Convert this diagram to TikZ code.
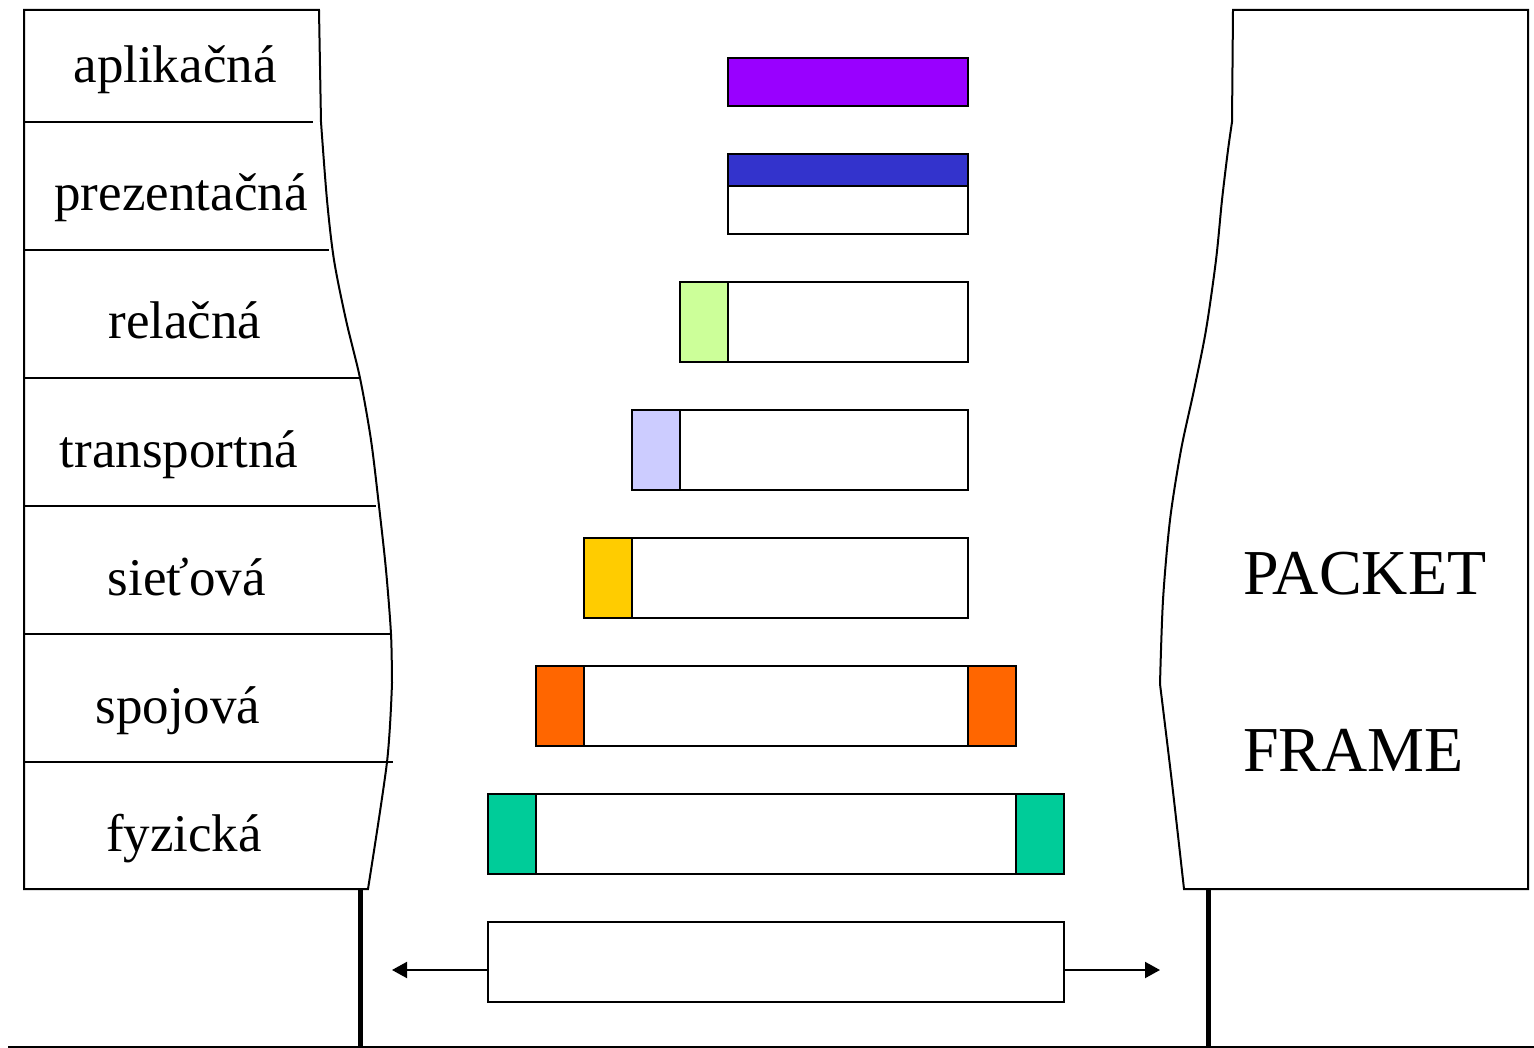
\documentclass[tikz,border=0pt]{standalone}
\usepackage{fontspec}
\setmainfont{Liberation Serif}
\usetikzlibrary{arrows.meta}
\definecolor{cPurple}{HTML}{9900FF}
\definecolor{cBlue}{HTML}{3333CC}
\definecolor{cGreen}{HTML}{CCFF99}
\definecolor{cLav}{HTML}{CCCCFF}
\definecolor{cGold}{HTML}{FFCC00}
\definecolor{cOrange}{HTML}{FF6600}
\definecolor{cTeal}{HTML}{00CC99}
\begin{document}
\begin{tikzpicture}[x=1pt,y=-1pt,line join=miter,
  outline/.style={draw=black,line width=2pt},
  layer/.style={font=\fontsize{53}{60}\selectfont,anchor=base,inner sep=0pt},
  big/.style={font=\fontsize{64}{72}\selectfont,anchor=base west,inner sep=0pt},
  cell/.style={draw=black,line width=2pt,inner sep=0pt,minimum height=80pt},
  pole/.style={line width=5pt},
  arr/.style={line width=2pt,-{Triangle[length=15pt,width=16pt]}}]
\useasboundingbox (0,0) rectangle (1534,1048);
% left stack
\draw[outline] (24,10) -- (319,10) -- (321,122)
  -- plot[smooth] coordinates {(321,122) (327,200) (334,260) (346,320) (360,378) (371,440) (379,506) (386,570) (391,634) (392,683)}
  -- plot[smooth] coordinates {(392,683) (387,762) (368,889)}
  -- (24,889) -- cycle;
\draw[outline] (24,122) -- (313,122);
\draw[outline] (24,250) -- (329,250);
\draw[outline] (24,378) -- (360,378);
\draw[outline] (24,506) -- (376,506);
\draw[outline] (24,634) -- (392,634);
\draw[outline] (24,762) -- (393,762);
\node[layer] (l1) at (175,83) {aplikačná};
\node[layer] (l2) at (181,211) {prezentačná};
\node[layer] (l3) at (185,339) {relačná};
\node[layer] (l4) at (179,467) {transportná};
\node[layer] (l5) at (187,595) {sieťová};
\node[layer] (l6) at (178,723) {spojová};
\node[layer] (l7) at (184,851) {fyzická};
% right stack
\draw[outline] (1233,10) -- (1528,10) -- (1528,889) -- (1184,889)
  -- plot[smooth] coordinates {(1184,889) (1172,783) (1160,684)}
  -- plot[smooth] coordinates {(1160,684) (1163,600) (1170,520) (1181,450) (1194,390) (1206,330) (1216,260) (1222,200) (1228,150) (1232,122)}
  -- cycle;
\node[big] (pk) at (1243,594) {PACKET};
\node[big] (fr) at (1243,771) {FRAME};
% data units
\draw[outline,fill=cPurple] (728,58) rectangle (968,106);
\draw[outline,fill=cBlue] (728,154) rectangle (968,186);
\draw[outline] (728,186) rectangle (968,234);
\draw[outline,fill=cGreen] (680,282) rectangle (728,362);
\draw[outline] (728,282) rectangle (968,362);
\draw[outline,fill=cLav] (632,410) rectangle (680,490);
\draw[outline] (680,410) rectangle (968,490);
\draw[outline,fill=cGold] (584,538) rectangle (632,618);
\draw[outline] (632,538) rectangle (968,618);
\draw[outline,fill=cOrange] (536,666) rectangle (584,746);
\draw[outline] (584,666) rectangle (968,746);
\draw[outline,fill=cOrange] (968,666) rectangle (1016,746);
\draw[outline,fill=cTeal] (488,794) rectangle (536,874);
\draw[outline] (536,794) rectangle (1016,874);
\draw[outline,fill=cTeal] (1016,794) rectangle (1064,874);
\node[cell,minimum width=576pt] (b8) at (776,962) {};
% medium
\draw[pole] (360,889) -- (360,1047);
\draw[pole] (1208,889) -- (1208,1047);
\draw[line width=2pt] (8,1047) -- (1534,1047);
\coordinate (la) at (392,970);
\coordinate (ra) at (1160,970);
\draw[arr] (b8.west |- la) -- (la);
\draw[arr] (b8.east |- ra) -- (ra);
\end{tikzpicture}
\end{document}
